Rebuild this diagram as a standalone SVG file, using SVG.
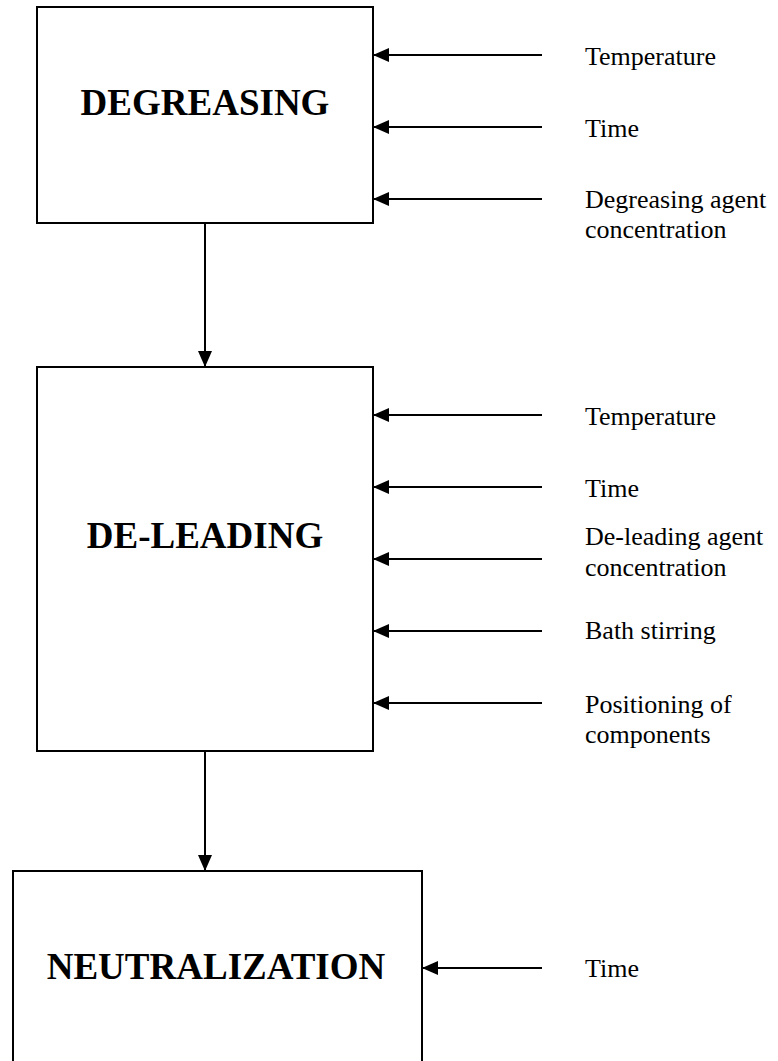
<svg xmlns="http://www.w3.org/2000/svg" width="778" height="1061" viewBox="0 0 778 1061">
  <style>
    .box { fill: #fff; stroke: #000; stroke-width: 2; }
    .title { font-family: "Liberation Serif", "Times New Roman", serif; font-weight: bold; font-size: 37px; text-anchor: middle; fill: #000; }
    .lbl { font-family: "Liberation Serif", "Times New Roman", serif; font-size: 26px; fill: #000; }
    .conn { stroke: #000; stroke-width: 2; fill: none; marker-end: url(#head); }
  </style>
  <defs>
    <marker id="head" viewBox="0 0 16 14" refX="16" refY="7" markerWidth="16" markerHeight="14" markerUnits="userSpaceOnUse" orient="auto">
      <path d="M0,0 L16,7 L0,14 Z" fill="#000"/>
    </marker>
  </defs>
  <rect width="778" height="1061" fill="#fff"/>

  <g id="degreasing">
    <rect class="box" x="37" y="7" width="336" height="216"/>
    <text class="title" x="205" y="115">DEGREASING</text>
  </g>

  <g id="deleading">
    <rect class="box" x="37" y="367" width="336" height="384"/>
    <text class="title" x="205" y="548">DE-LEADING</text>
  </g>

  <g id="neutralization">
    <rect class="box" x="13" y="871" width="409" height="220"/>
    <text class="title" x="216" y="979">NEUTRALIZATION</text>
  </g>

  <g id="labels">
    <text class="lbl" x="585" y="65">Temperature</text>
    <text class="lbl" x="585" y="137">Time</text>
    <text class="lbl" x="585" y="208">Degreasing agent</text>
    <text class="lbl" x="585" y="238">concentration</text>

    <text class="lbl" x="585" y="425">Temperature</text>
    <text class="lbl" x="585" y="497">Time</text>
    <text class="lbl" x="585" y="545">De-leading agent</text>
    <text class="lbl" x="585" y="576">concentration</text>
    <text class="lbl" x="585" y="639">Bath stirring</text>
    <text class="lbl" x="585" y="713">Positioning of</text>
    <text class="lbl" x="585" y="743">components</text>

    <text class="lbl" x="585" y="977">Time</text>
  </g>

  <g id="connectors">
    <line class="conn" x1="205" y1="223" x2="205" y2="367"/>
    <line class="conn" x1="205" y1="751" x2="205" y2="871"/>

    <line class="conn" x1="542" y1="55" x2="373" y2="55"/>
    <line class="conn" x1="542" y1="127" x2="373" y2="127"/>
    <line class="conn" x1="542" y1="199" x2="373" y2="199"/>

    <line class="conn" x1="542" y1="415" x2="373" y2="415"/>
    <line class="conn" x1="542" y1="487" x2="373" y2="487"/>
    <line class="conn" x1="542" y1="559" x2="373" y2="559"/>
    <line class="conn" x1="542" y1="631" x2="373" y2="631"/>
    <line class="conn" x1="542" y1="703" x2="373" y2="703"/>

    <line class="conn" x1="542" y1="968" x2="422" y2="968"/>
  </g>
</svg>
